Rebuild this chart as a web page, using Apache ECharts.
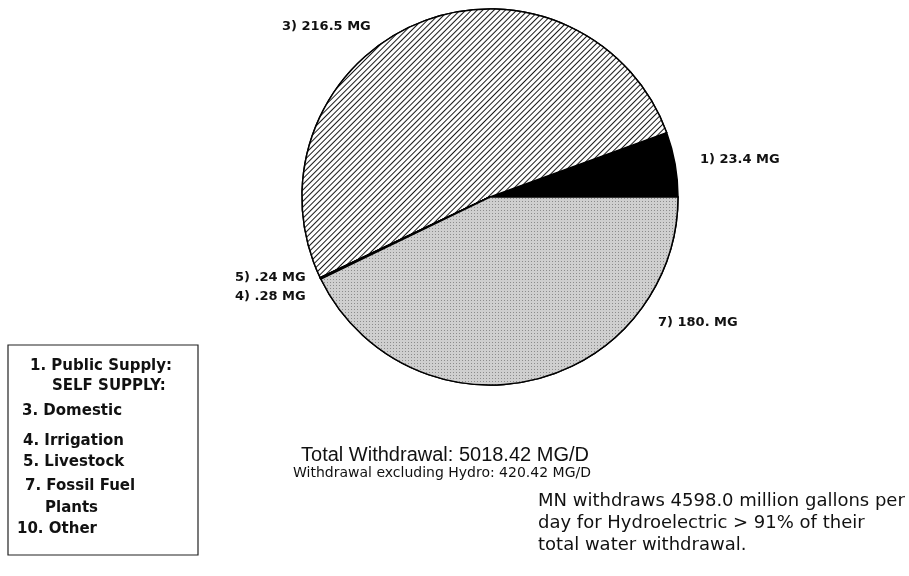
<!DOCTYPE html>
<html>
<head>
<meta charset="utf-8">
<script src="https://cdn.jsdelivr.net/npm/echarts@6/dist/echarts.min.js"></script>
<style>
html, body { margin: 0; padding: 0; background: #fff; }
#chart { width: 909px; height: 576px; }
</style>
</head>
<body>
<div id="chart"></div>
<script>
// slices, counter-clockwise from 3 o'clock
var sliceIds = ['1', '3', '5', '4', '7'];
var sliceValues = [23.4, 216.5, 0.24, 0.28, 180];
var sliceText = ['23.4', '216.5', '.24', '.28', '180.'];

var legendLines = [
  '1. Public Supply:',
  'SELF SUPPLY:',
  '3. Domestic',
  '4. Irrigation',
  '5. Livestock',
  '7. Fossil Fuel',
  'Plants',
  '10. Other'
];

var totalTitle = 'Total Withdrawal: 5018.42 MG/D';
var subTitle = 'Withdrawal excluding Hydro: 420.42 MG/D';
var noteLines = [
  'MN withdraws 4598.0 million gallons per',
  'day for Hydroelectric > 91% of their',
  'total water withdrawal.'
];

// where each slice label sits (left edge, middle)
var labelSpots = [[700, 160], [282, 27], [235, 278], [235, 297], [658, 323]];
var legendIndent = [30, 52, 22, 23, 23, 25, 45, 17];
var legendRows = [366, 386, 411, 441, 462, 486, 508, 529];

var hatch = {
  symbol: 'rect',
  symbolSize: 1,
  dashArrayX: [1, 0],
  dashArrayY: [1, 2.6],
  rotation: -Math.PI / 4,
  color: '#1a1a1a',
  backgroundColor: '#fff'
};
var stipple = {
  symbol: 'rect',
  symbolSize: 1,
  dashArrayX: [1, 2],
  dashArrayY: [1, 2],
  color: '#8c8c8c',
  backgroundColor: '#cfcfcf'
};

var fills = [
  { color: '#000' },
  { color: '#fff', decal: hatch },
  { color: '#fff', decal: hatch },
  { color: '#cfcfcf', decal: stipple },
  { color: '#cfcfcf', decal: stipple }
];

var pieData = sliceIds.map(function (id, i) {
  return {
    name: id,
    value: sliceValues[i],
    itemStyle: fills[i]
  };
});

var graphics = [{
  type: 'rect',
  shape: { x: 8, y: 345, width: 190, height: 210 },
  style: { fill: '#fff', stroke: '#222', lineWidth: 1.2 }
}];
legendLines.forEach(function (t, i) {
  graphics.push({
    type: 'text',
    x: legendIndent[i],
    y: legendRows[i],
    style: {
      text: t,
      font: 'bold 15px "DejaVu Sans"',
      fill: '#111',
      verticalAlign: 'middle'
    }
  });
});
graphics.push({
  type: 'text', x: 445, y: 455,
  style: { text: totalTitle, font: '20px "Liberation Sans"', fill: '#111', align: 'center', verticalAlign: 'middle' }
});
graphics.push({
  type: 'text', x: 442, y: 473,
  style: { text: subTitle, font: '14px "DejaVu Sans"', fill: '#111', align: 'center', verticalAlign: 'middle' }
});
noteLines.forEach(function (t, i) {
  graphics.push({
    type: 'text', x: 538, y: 501 + i * 22,
    style: { text: t, font: '18px "DejaVu Sans"', fill: '#111', verticalAlign: 'middle' }
  });
});

var chart = echarts.init(document.getElementById('chart'));
chart.setOption({
  animation: false,
  backgroundColor: '#fff',
  graphic: graphics,
  series: [{
    type: 'pie',
    center: [490, 197],
    radius: 188,
    startAngle: 0,
    clockwise: false,
    silent: true,
    data: pieData,
    itemStyle: { borderColor: '#000', borderWidth: 1.5 },
    labelLine: { show: false },
    label: {
      show: true,
      position: 'outside',
      fontFamily: 'DejaVu Sans',
      fontWeight: 'bold',
      fontSize: 13,
      color: '#111',
      formatter: function (p) {
        return p.name + ') ' + sliceText[p.dataIndex] + ' MG';
      }
    },
    labelLayout: function (params) {
      var s = labelSpots[params.dataIndex];
      return { x: s[0], y: s[1], align: 'left', verticalAlign: 'middle' };
    }
  }]
});
</script>
</body>
</html>
